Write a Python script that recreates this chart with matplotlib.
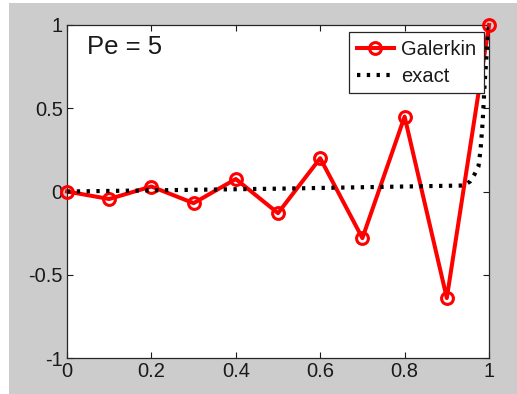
import matplotlib
matplotlib.use("Agg")
import matplotlib.pyplot as plt
from matplotlib.patches import Rectangle

plt.rcParams['font.family'] = ['Liberation Sans', 'DejaVu Sans']

# Galerkin nodal solution (h = 0.1)
x_nodes = [0.0, 0.1, 0.2, 0.3, 0.4, 0.5, 0.6, 0.7, 0.8, 0.9, 1.0]
u_galerkin = [0.0, -0.045, 0.03, -0.07, 0.075, -0.13, 0.20, -0.28, 0.45, -0.64, 1.0]

# Exact solution with its boundary layer at x = 1
x_exact = [0.0, 0.5, 0.94, 0.955, 0.965, 0.975, 0.98, 0.985, 0.99, 0.995, 1.0]
u_exact = [0.0, 0.017, 0.036, 0.06, 0.10, 0.15, 0.25, 0.42, 0.66, 0.85, 1.0]

x_ticks = [0, 0.2, 0.4, 0.6, 0.8, 1]
x_ticklabels = ["0", "0.2", "0.4", "0.6", "0.8", "1"]
y_ticks = [-1, -0.5, 0, 0.5, 1]
y_ticklabels = ["-1", "-0.5", "0", "0.5", "1"]

W, H = 517, 394
fig = plt.figure(figsize=(W / 100, H / 100), dpi=100, facecolor='white')
fig.patches.append(Rectangle((9 / W, 0), 1 - 9 / W, 1 - 3 / H,
                             transform=fig.transFigure, facecolor='#cccccc',
                             edgecolor='none', zorder=-10))

ax = fig.add_axes([67 / W, (H - 358) / H, 422 / W, 333 / H])
ax.set_zorder(1)
ax.set_facecolor('white')

ax.plot(x_nodes, u_galerkin, color='red', lw=2.9, marker='o', ms=8.5,
        mfc='none', mec='red', mew=2.2, label='Galerkin', clip_on=False,
        zorder=3)
ax.plot(x_exact, u_exact, color='black', lw=3.0, linestyle=(0, (0.8, 1.55)),
        label='exact', zorder=4)

ax.set_xlim(0, 1)
ax.set_ylim(-1, 1)
ax.set_xticks(x_ticks)
ax.set_xticklabels(x_ticklabels)
ax.set_yticks(y_ticks)
ax.set_yticklabels(y_ticklabels)
ax.tick_params(direction='in', length=4, width=0.8, top=True, right=True,
               labelsize=14.5, colors='#1a1a1a', pad=3)
for s in ax.spines.values():
    s.set_color('#262626')
    s.set_linewidth(0.9)

ax.text(0.047, 0.934, "Pe = 5", transform=ax.transAxes, fontsize=18.5,
        ha='left', va='center', color='#1a1a1a')

leg = ax.legend(loc='upper right', bbox_to_anchor=(0.988, 0.979),
                fontsize=14.5, numpoints=1, handlelength=1.85,
                handletextpad=0.36, labelspacing=0.4, borderpad=0.38,
                borderaxespad=0, fancybox=False, framealpha=1,
                edgecolor='#262626')
leg.get_frame().set_linewidth(0.9)
for t in leg.get_texts():
    t.set_color('#1a1a1a')

fig.savefig("out.png", dpi=100, facecolor=fig.get_facecolor())
